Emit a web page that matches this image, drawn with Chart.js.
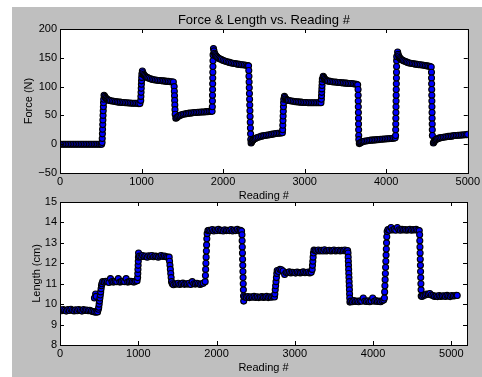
<!DOCTYPE html>
<html>
<head>
<meta charset="utf-8">
<script src="https://cdn.jsdelivr.net/npm/chart.js@4/dist/chart.umd.min.js"></script>
<style>
    body { margin: 0; background: #ffffff; }
    #page { position: relative; width: 482px; height: 377px; overflow: hidden; }
    #fig { position: absolute; left: 12px; top: 7px; width: 470px; height: 370px; background: #bfbfbf; }
    canvas { position: absolute; left: 0; }
    #forceChart { top: 0; }
    #lengthChart { top: 190px; }
</style>
</head>
<body>
<div id="page">
    <div id="fig"></div>
    <canvas id="forceChart" width="482" height="205"></canvas>
    <canvas id="lengthChart" width="482" height="187"></canvas>
</div>
<script>
// tick labels
var readingTicks = [0, 1000, 2000, 3000, 4000, 5000];
var forceTicks = [-50, 0, 50, 100, 150, 200];
var lengthTicks = [8, 9, 10, 11, 12, 13, 14, 15];

// Force (N) vs reading #
var forceReading = [
    0, 20, 40, 60, 80, 100, 120, 140, 160, 180, 200, 220, 240, 260, 280, 300, 320, 340, 360, 380, 400, 420, 440, 460, 480, 500, 510,
    516, 518, 520, 522, 524, 526, 528, 530, 532, 534, 536,
    540, 548, 556, 566, 578, 590, 605, 620, 640, 660, 680, 700, 720, 740, 760, 780, 800, 820, 840, 860, 880, 900, 920, 940, 960, 980,
    990, 992, 994, 996, 998, 1000, 1002, 1004,
    1010, 1016, 1024, 1034, 1046, 1060, 1075, 1090, 1110, 1130, 1150, 1170, 1190, 1210, 1230, 1250, 1270, 1290, 1310, 1330, 1350, 1370, 1390,
    1400, 1402, 1404, 1406, 1408, 1410, 1412,
    1420, 1430, 1442, 1456, 1472, 1490, 1510, 1530, 1550, 1570, 1590, 1610, 1630, 1650, 1670, 1690, 1710, 1730, 1750, 1770, 1790, 1810, 1830, 1850, 1865,
    1868, 1869, 1870, 1871, 1872, 1873, 1874, 1875, 1876, 1877,
    1882, 1888, 1895, 1903, 1912, 1922, 1934, 1948, 1964, 1980, 2000, 2020, 2040, 2060, 2080, 2100, 2120, 2140, 2160, 2180, 2200, 2220, 2240, 2260, 2280, 2300, 2312,
    2315, 2317, 2319, 2321, 2323, 2325, 2327, 2329, 2331, 2333, 2335, 2337, 2339,
    2343, 2350, 2358, 2368, 2380, 2395, 2410, 2430, 2450, 2470, 2490, 2510, 2530, 2550, 2570, 2590, 2610, 2630, 2650, 2670, 2690, 2710, 2727,
    2730, 2732, 2734, 2736, 2738, 2740, 2742, 2744,
    2752, 2758, 2766, 2776, 2788, 2800, 2820, 2840, 2860, 2880, 2900, 2920, 2940, 2960, 2980, 3000, 3020, 3040, 3060, 3080, 3100, 3120, 3140, 3160, 3180, 3200,
    3205, 3207, 3209, 3211, 3213, 3215, 3217,
    3228, 3234, 3242, 3252, 3264, 3278, 3295, 3315, 3335, 3355, 3375, 3395, 3415, 3435, 3455, 3475, 3495, 3515, 3535, 3555, 3575, 3595, 3615, 3635, 3650,
    3655, 3656, 3657, 3658, 3659, 3660, 3661, 3662, 3663, 3664,
    3670, 3678, 3688, 3700, 3715, 3730, 3750, 3770, 3790, 3810, 3830, 3850, 3870, 3890, 3910, 3930, 3950, 3970, 3990, 4010, 4030, 4050, 4070, 4090, 4110,
    4115, 4116, 4117, 4118, 4119, 4120, 4121, 4122, 4123, 4124, 4125, 4126, 4127, 4128, 4129,
    4140, 4146, 4154, 4163, 4173, 4185, 4198, 4212, 4228, 4245, 4262, 4280, 4300, 4320, 4340, 4360, 4380, 4400, 4420, 4440, 4460, 4480, 4500, 4520, 4540, 4552,
    4555, 4556, 4557, 4558, 4559, 4560, 4561, 4562, 4563, 4564, 4565, 4566,
    4578, 4585, 4593, 4603, 4615, 4630, 4645, 4660, 4680, 4700, 4720, 4740, 4760, 4780, 4800, 4820, 4840, 4860, 4880, 4900, 4920, 4940, 4960, 4980, 4998
];
var forceValue = [
    0, 0, 0, 0, 0, 0, 0, 0, 0, 0, 0, 0, 0, 0, 0, 0, 0, 0, 0, 0, 0, 0, 0, 0, 0, 0, 0,
    3, 10, 18, 26, 34, 42, 50, 58, 65, 72, 78,
    85, 83, 81, 79.5, 78, 77, 76, 75.5, 75, 74.5, 74, 73.5, 73, 73, 72.5, 72.5, 72, 72, 71.5, 71.5, 71, 71, 71, 71, 70.5, 70.5,
    76, 83, 90, 97, 104, 110, 116, 122,
    127, 124, 121.5, 119.5, 118, 116.5, 115.5, 114.5, 113.5, 112.5, 112, 111.5, 111, 110.5, 110.5, 110, 110, 109.5, 109, 109, 108.5, 108.5, 108,
    100, 92, 84, 76, 68, 60, 52,
    45, 46, 47.5, 49, 50, 51, 52, 52.5, 53, 53.5, 54, 54, 54.5, 55, 55, 55.5, 55.5, 56, 56, 56, 56.5, 56.5, 57, 57, 57,
    65, 75, 85, 95, 105, 115, 125, 135, 145, 155,
    166, 162, 158, 155.5, 153.5, 152, 150.5, 149, 148, 147, 145.5, 144.5, 143.5, 142.5, 142, 141, 140.5, 140, 139.5, 139, 138.5, 138, 138, 137.5, 137, 136.5, 136,
    128, 118, 108, 98, 88, 78, 68, 58, 48, 38, 28, 18, 8,
    2, 4, 6, 7.5, 9, 10, 11, 12, 13, 14, 14.5, 15, 15.5, 16, 16.5, 17, 17.5, 18, 18.5, 19, 19, 19.5, 20,
    25, 33, 41, 49, 57, 65, 72, 78,
    83, 81, 79, 77.5, 76.5, 76, 75.5, 75, 74.5, 74, 73.5, 73.5, 73, 73, 72.5, 72.5, 72.5, 72, 72, 72, 72, 72, 72, 72, 72, 72,
    78, 84, 90, 96, 102, 108, 113,
    118, 116, 114, 112.5, 111, 110, 109.5, 109, 108.5, 108, 108, 107.5, 107, 107, 106.5, 106.5, 106, 106, 105.5, 105.5, 105.5, 105, 104.5, 104, 103,
    95, 85, 75, 65, 55, 45, 35, 25, 15, 8,
    1, 2, 3, 4, 4.5, 5, 5.5, 6, 6.5, 7, 7, 7.5, 7.5, 8, 8, 8.5, 8.5, 9, 9, 9.5, 9.5, 10, 10, 10.5, 11,
    15, 25, 35, 45, 55, 65, 75, 85, 95, 105, 115, 125, 135, 145, 152,
    160, 156, 153, 150.5, 148.5, 147, 146, 145, 144, 143, 142, 141, 140.5, 140, 139.5, 139, 138.5, 138, 138, 137.5, 137, 136.5, 136, 135.5, 135, 134,
    125, 115, 105, 95, 85, 75, 65, 55, 45, 35, 25, 15,
    2, 4, 6, 7.5, 8.5, 9.5, 10.5, 11, 11.5, 12, 12.5, 13, 13.5, 13.5, 14, 14.5, 15, 15, 15.5, 15.5, 16, 16, 16.5, 16.5, 17
];

// Length (cm) vs reading #
var lengthReading = [
    0, 20, 40, 60, 80, 100, 120, 140, 160, 180, 200, 220, 240, 260, 280, 300, 320, 340, 360, 380, 400, 420, 440, 460, 480,
    440, 455, 462,
    490, 495, 500, 505, 510, 515, 520, 525, 530, 535,
    545, 565, 585, 605, 625, 645, 665, 685, 705, 725, 745, 765, 785, 805, 825, 845, 865, 885, 905, 925, 945, 965, 985,
    992, 994, 996, 998, 1000, 1002, 1004,
    1015, 1035, 1055, 1075, 1095, 1115, 1135, 1155, 1175, 1195, 1215, 1235, 1255, 1275, 1295, 1315, 1335, 1355, 1375,
    1395, 1400, 1405, 1410, 1415, 1420, 1425, 1435,
    1450, 1470, 1490, 1510, 1530, 1550, 1570, 1590, 1610, 1630, 1650, 1670, 1690, 1710, 1730, 1750, 1770, 1790, 1810, 1830,
    1855, 1858, 1861, 1864, 1867, 1870, 1873, 1876, 1880, 1890,
    1905, 1925, 1945, 1965, 1985, 2005, 2025, 2045, 2065, 2085, 2105, 2125, 2145, 2165, 2185, 2205, 2225, 2245, 2265, 2285, 2305, 2320,
    2325, 2327, 2329, 2331, 2333, 2335, 2337, 2339, 2341, 2343, 2345, 2347,
    2360, 2380, 2400, 2420, 2440, 2460, 2480, 2500, 2520, 2540, 2560, 2580, 2600, 2620, 2640, 2660, 2680, 2700, 2720, 2740,
    2745, 2750, 2755, 2760, 2765, 2770, 2775,
    2790, 2810, 2830, 2850, 2870, 2890, 2910, 2930, 2950, 2970, 2990, 3010, 3030, 3050, 3070, 3090, 3110, 3130, 3150, 3170, 3190, 3210,
    3222, 3226, 3230, 3234, 3238, 3245,
    3260, 3280, 3300, 3320, 3340, 3360, 3380, 3400, 3420, 3440, 3460, 3480, 3500, 3520, 3540, 3560, 3580, 3600, 3620, 3640, 3660, 3675,
    3680, 3682, 3684, 3686, 3688, 3690, 3692, 3694, 3696, 3698, 3700, 3702, 3704,
    3715, 3735, 3755, 3775, 3795, 3815, 3835, 3855, 3875, 3895, 3915, 3935, 3955, 3975, 3995, 4015, 4035, 4055, 4075, 4095, 4115, 4135,
    4145, 4148, 4151, 4154, 4157, 4160, 4163, 4166, 4169, 4172, 4175, 4180,
    4190, 4210, 4230, 4250, 4270, 4290, 4310, 4330, 4350, 4370, 4390, 4410, 4430, 4450, 4470, 4490, 4510, 4530, 4550, 4570, 4590,
    4595, 4597, 4599, 4601, 4603, 4605, 4607, 4609, 4611, 4613, 4615,
    4625, 4645, 4665, 4685, 4705, 4725, 4745, 4765, 4785, 4805, 4825, 4845, 4865, 4885, 4905, 4925, 4945, 4965, 4985, 5005, 5025, 5045, 5065, 5075
];
var lengthValue = [
    9.72, 9.68, 9.74, 9.70, 9.66, 9.73, 9.69, 9.75, 9.70, 9.67, 9.72, 9.68, 9.74, 9.70, 9.66, 9.73, 9.69, 9.71, 9.68, 9.70, 9.66, 9.64, 9.62, 9.60, 9.62,
    10.3, 10.5, 10.38,
    9.75, 9.85, 10.0, 10.15, 10.3, 10.45, 10.6, 10.75, 10.9, 11.0,
    11.1, 11.08, 11.12, 11.1, 11.06, 11.25, 11.1, 11.08, 11.12, 11.1, 11.25, 11.08, 11.1, 11.12, 11.1, 11.25, 11.08, 11.1, 11.12, 11.1, 11.08, 11.12, 11.15,
    11.3, 11.5, 11.7, 11.9, 12.1, 12.3, 12.5,
    12.35, 12.32, 12.38, 12.33, 12.36, 12.3, 12.37, 12.34, 12.38, 12.32, 12.36, 12.34, 12.3, 12.35, 12.38, 12.33, 12.36, 12.32, 12.3,
    12.3, 12.1, 11.9, 11.7, 11.5, 11.3, 11.1, 11.0,
    10.95, 11.0, 10.98, 11.02, 10.96, 11.0, 11.03, 10.97, 11.0, 10.98, 11.02, 10.96, 11.1, 11.0, 10.98, 11.02, 11.0, 10.96, 11.0, 11.02,
    11.1, 11.4, 11.7, 12.0, 12.3, 12.6, 12.9, 13.2, 13.45, 13.6,
    13.62, 13.6, 13.65, 13.58, 13.63, 13.6, 13.66, 13.6, 13.62, 13.58, 13.64, 13.6, 13.62, 13.6, 13.65, 13.58, 13.63, 13.6, 13.66, 13.6, 13.62, 13.58,
    13.4, 13.1, 12.8, 12.5, 12.2, 11.9, 11.6, 11.3, 11.0, 10.7, 10.4, 10.15,
    10.35, 10.33, 10.37, 10.32, 10.36, 10.34, 10.38, 10.33, 10.36, 10.32, 10.35, 10.37, 10.33, 10.35, 10.38, 10.32, 10.36, 10.34, 10.37, 10.35,
    10.5, 10.7, 10.9, 11.1, 11.3, 11.5, 11.65,
    11.6, 11.7, 11.68, 11.62, 11.45, 11.55, 11.55, 11.58, 11.53, 11.56, 11.55, 11.52, 11.57, 11.55, 11.53, 11.56, 11.58, 11.54, 11.55, 11.57, 11.53, 11.56,
    11.7, 11.9, 12.1, 12.3, 12.5, 12.65,
    12.62, 12.6, 12.65, 12.6, 12.63, 12.6, 12.66, 12.6, 12.62, 12.64, 12.6, 12.62, 12.65, 12.6, 12.62, 12.64, 12.6, 12.63, 12.61, 12.65, 12.6, 12.62,
    12.5, 12.3, 12.1, 11.9, 11.7, 11.5, 11.3, 11.1, 10.9, 10.7, 10.5, 10.3, 10.1,
    10.15, 10.12, 10.17, 10.13, 10.15, 10.12, 10.16, 10.14, 10.3, 10.15, 10.13, 10.16, 10.12, 10.15, 10.3, 10.14, 10.17, 10.13, 10.15, 10.12, 10.16, 10.2,
    10.3, 10.6, 10.9, 11.2, 11.5, 11.8, 12.1, 12.4, 12.7, 13.0, 13.3, 13.55,
    13.65, 13.62, 13.75, 13.63, 13.66, 13.62, 13.75, 13.64, 13.62, 13.66, 13.63, 13.65, 13.62, 13.64, 13.66, 13.62, 13.65, 13.63, 13.66, 13.62, 13.6,
    13.4, 13.1, 12.8, 12.5, 12.2, 11.9, 11.6, 11.3, 11.0, 10.7, 10.4,
    10.38, 10.42, 10.45, 10.5, 10.48, 10.52, 10.45, 10.42, 10.38, 10.4, 10.37, 10.42, 10.38, 10.4, 10.41, 10.38, 10.43, 10.4, 10.37, 10.42, 10.4, 10.41, 10.43, 10.42
];

var FONT = "'Liberation Sans', Arial, Helvetica, sans-serif";

function toPoints(xs, ys) {
    var pts = [];
    for (var i = 0; i < xs.length; i++) {
        pts.push({ x: xs[i], y: ys[i] });
    }
    return pts;
}

function fixedTicks(list) {
    return function (scale) {
        scale.ticks = list.map(function (v) { return { value: v }; });
    };
}

// white axes box, black frame, inward ticks on all four sides (old matplotlib look)
var mplFrame = {
    id: 'mplFrame',
    beforeDatasetsDraw: function (chart) {
        var a = chart.chartArea, ctx = chart.ctx;
        ctx.save();
        ctx.fillStyle = '#ffffff';
        ctx.fillRect(a.left, a.top, a.right - a.left, a.bottom - a.top);
        ctx.restore();
    },
    afterDatasetsDraw: function (chart, args, opts) {
        var a = chart.chartArea, ctx = chart.ctx;
        var xs = chart.scales.x, ys = chart.scales.y;
        var len = 4;
        ctx.save();
        ctx.strokeStyle = '#000000';
        ctx.lineWidth = 1;
        ctx.beginPath();
        xs.ticks.forEach(function (t) {
            var px = Math.round(xs.getPixelForValue(t.value)) + 0.5;
            ctx.moveTo(px, a.bottom); ctx.lineTo(px, a.bottom - len);
            ctx.moveTo(px, a.top); ctx.lineTo(px, a.top + len);
        });
        ys.ticks.forEach(function (t) {
            var py = Math.round(ys.getPixelForValue(t.value)) + 0.5;
            ctx.moveTo(a.left, py); ctx.lineTo(a.left + len, py);
            ctx.moveTo(a.right, py); ctx.lineTo(a.right - len, py);
        });
        ctx.stroke();
        ctx.strokeRect(Math.round(a.left) + 0.5, Math.round(a.top) + 0.5,
            Math.round(a.right - a.left), Math.round(a.bottom - a.top));
        if (opts && opts.text) {
            ctx.fillStyle = '#000000';
            ctx.font = '13px ' + FONT;
            ctx.textAlign = 'center';
            ctx.textBaseline = 'middle';
            ctx.fillText(opts.text, (a.left + a.right) / 2, opts.y);
        }
        ctx.restore();
    }
};

function makeChart(canvasId, xs, ys, cfg) {
    return new Chart(document.getElementById(canvasId), {
        type: 'scatter',
        data: {
            datasets: [{
                data: toPoints(xs, ys),
                backgroundColor: '#0000ff',
                borderColor: '#000000',
                borderWidth: 1.1,
                pointRadius: 3,
                pointHoverRadius: 3,
                clip: 0
            }]
        },
        options: {
            responsive: false,
            animation: false,
            devicePixelRatio: 1,
            layout: { padding: cfg.padding },
            plugins: {
                legend: { display: false },
                tooltip: { enabled: false },
                mplFrame: { text: cfg.title, y: cfg.titleY }
            },
            scales: {
                x: {
                    type: 'linear',
                    min: 0,
                    max: cfg.xMax,
                    grid: { display: false, drawTicks: false },
                    border: { display: false },
                    afterBuildTicks: fixedTicks(readingTicks),
                    ticks: {
                        autoSkip: false,
                        maxRotation: 0,
                        padding: 2,
                        color: '#000000',
                        font: { family: FONT, size: 11 },
                        callback: function (v) { return String(v); }
                    },
                    title: {
                        display: true,
                        text: 'Reading #',
                        color: '#000000',
                        font: { family: FONT, size: 11 },
                        padding: { top: 0, bottom: 2.4 }
                    },
                    afterFit: function (s) { s.height = 32; }
                },
                y: {
                    min: cfg.yTicks[0],
                    max: cfg.yTicks[cfg.yTicks.length - 1],
                    grid: { display: false, drawTicks: false },
                    border: { display: false },
                    afterBuildTicks: fixedTicks(cfg.yTicks),
                    ticks: {
                        padding: 3,
                        color: '#000000',
                        font: { family: FONT, size: 11 },
                        callback: function (v) { return String(v).replace('-', '\u2212'); }
                    },
                    title: {
                        display: true,
                        text: cfg.yLabel,
                        color: '#000000',
                        font: { family: FONT, size: 11 },
                        padding: { top: cfg.yTitlePad, bottom: 0 }
                    },
                    afterFit: function (s) { s.width = 48; }
                }
            }
        },
        plugins: [mplFrame]
    });
}

var forceChart = makeChart('forceChart', forceReading, forceValue, {
    padding: { left: 12, top: 29, right: 14, bottom: 0 },
    title: 'Force & Length vs. Reading #',
    titleY: 20,
    xMax: 5000,
    yTicks: forceTicks,
    yLabel: 'Force (N)',
    yTitlePad: 10.4
});

var lengthChart = makeChart('lengthChart', lengthReading, lengthValue, {
    padding: { left: 12, top: 12, right: 15, bottom: 0 },
    title: null,
    xMax: 5200,
    yTicks: lengthTicks,
    yLabel: 'Length (cm)',
    yTitlePad: 18.4
});
</script>
</body>
</html>
